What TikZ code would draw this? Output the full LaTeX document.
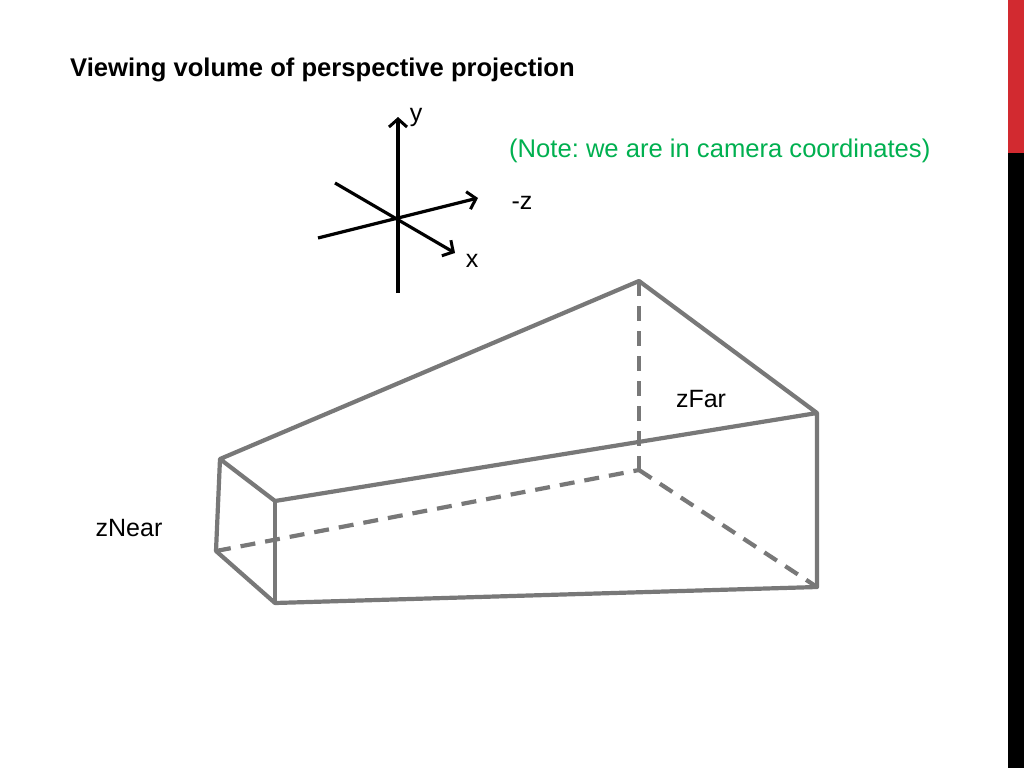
\documentclass[tikz,border=0pt]{standalone}
\usepackage{fontspec}
\setmainfont{Liberation Sans}
\usetikzlibrary{arrows.meta}
\frenchspacing
\begin{document}
\begin{tikzpicture}[x=1pt,y=-1pt,
  edge/.style={draw=framegray,line width=4.2pt,line join=round},
  hidden/.style={edge,dash pattern=on 15pt off 10pt},
  axis/.style={line width=3.2pt,-{Straight Barb[length=8pt,width=18pt,line width=3pt]}},
  lbl/.style={font=\fontsize{25}{30}\selectfont,inner sep=0pt}]
\definecolor{framegray}{RGB}{120,120,120}
\definecolor{notegreen}{RGB}{0,176,80}
\definecolor{barred}{RGB}{210,42,48}
\useasboundingbox (0,0) rectangle (1024,768);
\fill[white] (0,0) rectangle (1024,768);
\fill[barred] (1008,0) rectangle (1024,153);
\fill[black] (1008,153) rectangle (1024,768);
\node[anchor=base west,inner sep=0pt,font=\fontsize{25.6}{30}\selectfont\bfseries] (title) at (70,76) {Viewing volume of perspective projection};
\node[anchor=base west,inner sep=0pt,font=\fontsize{25.6}{30}\selectfont,text=notegreen] (note) at (509,157) {(Note: we are in camera coordinates)};
% axes
\coordinate (o) at (398,218);
\coordinate (ybot) at (398,293);
\coordinate (ytop) at (398,117);
\coordinate (zs) at (318,238);
\coordinate (ze) at (478,198);
\coordinate (xs) at (335,183);
\coordinate (xe) at (455,253);
\draw[axis] (ybot) -- (ytop);
\draw[axis] (zs) -- (ze);
\draw[axis] (xs) -- (xe);
\node[lbl] (ylab) at (416,117) {y};
\node[lbl] (zlab) at (522,203) {-z};
\node[lbl] (xlab) at (472,261) {x};
% frustum
\coordinate (A) at (220,459);
\coordinate (B) at (275,501);
\coordinate (C) at (275,603);
\coordinate (D) at (216,551);
\coordinate (E) at (639,281);
\coordinate (F) at (817,413);
\coordinate (G) at (817,587);
\coordinate (H) at (639,470);
\draw[hidden] (D) -- (H);
\draw[hidden] (E) -- (H);
\draw[hidden] (H) -- (G);
\draw[edge] (A) -- (E) -- (F) -- (G) -- (C) -- (D) -- (A) -- (B) -- (F);
\draw[edge] (B) -- (C);
\node[lbl] (zfar) at (701,399) {zFar};
\node[lbl] (znear) at (129,528) {zNear};
\end{tikzpicture}
\end{document}
